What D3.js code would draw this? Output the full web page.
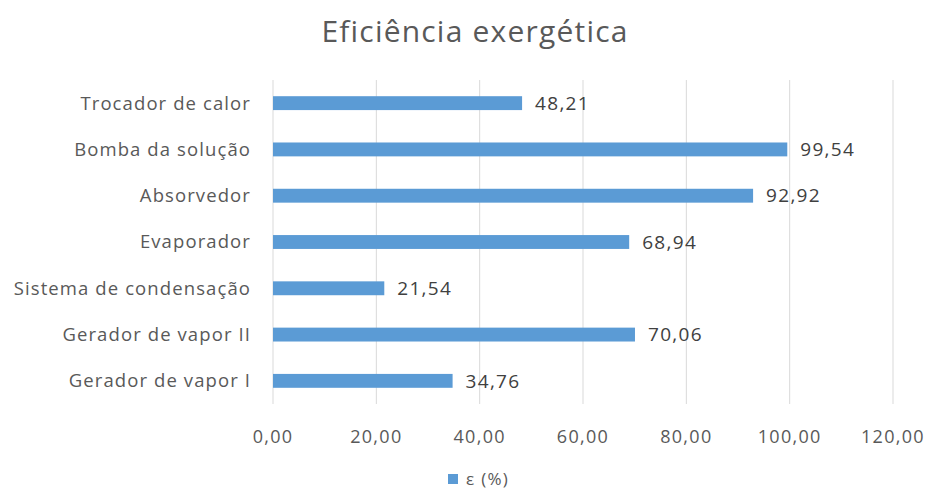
<!DOCTYPE html>
<html>
<head>
<meta charset="utf-8">
<script src="https://cdn.jsdelivr.net/npm/d3@7"></script>
<style>
  html, body { margin: 0; padding: 0; background: #fff; }
  svg { display: block; font-family: "Open Sans", "Noto Sans", sans-serif; }
</style>
</head>
<body>
<svg id="chart" width="930" height="492"></svg>
<script>
// Exergy efficiency per component (%), listed from the bottom bar upwards
const categories = [
  "Gerador de vapor I",
  "Gerador de vapor II",
  "Sistema de condensação",
  "Evaporador",
  "Absorvedor",
  "Bomba da solução",
  "Trocador de calor"
];
const values = [34.76, 70.06, 21.54, 68.94, 92.92, 99.54, 48.21];
const tickValues = [0, 20, 40, 60, 80, 100, 120];
const title = "Eficiência exergética";
const seriesName = "ε (%)";

const fmt = v => d3.format(".2f")(v).replace(".", ",");

const svg = d3.select("#chart");
const margin = { left: 273, right: 37, top: 80, bottom: 88 };
const W = 930, H = 492;

const x = d3.scaleLinear()
  .domain([0, 120])
  .range([margin.left, W - margin.right]);

const y = d3.scaleBand()
  .domain(categories.slice().reverse())
  .range([margin.top, H - margin.bottom])
  .paddingInner(0.7)
  .paddingOuter(0.35);

// Vertical gridlines
svg.append("g")
  .selectAll("line")
  .data(tickValues)
  .join("line")
  .attr("x1", d => x(d)).attr("x2", d => x(d))
  .attr("y1", margin.top).attr("y2", H - margin.bottom)
  .attr("stroke", "#d9d9d9")
  .attr("stroke-width", 1);

// Bars
svg.append("g")
  .selectAll("rect")
  .data(categories.map((c, i) => ({ c, v: values[i] })))
  .join("rect")
  .attr("x", x(0))
  .attr("y", d => y(d.c))
  .attr("width", d => x(d.v) - x(0))
  .attr("height", y.bandwidth())
  .attr("fill", "#5b9bd5");

// Value labels
svg.append("g")
  .selectAll("text")
  .data(categories.map((c, i) => ({ c, v: values[i] })))
  .join("text")
  .attr("x", d => x(d.v) + 13)
  .attr("y", d => y(d.c) + y.bandwidth() / 2)
  .attr("dy", "0.35em")
  .attr("font-size", 19)
  .attr("letter-spacing", 1.3)
  .attr("fill", "#404040")
  .text(d => fmt(d.v));

// Category axis labels
svg.append("g")
  .selectAll("text")
  .data(categories)
  .join("text")
  .attr("x", margin.left - 22)
  .attr("y", d => y(d) + y.bandwidth() / 2)
  .attr("dy", "0.35em")
  .attr("text-anchor", "end")
  .attr("font-size", 18.5)
  .attr("letter-spacing", 1.1)
  .attr("fill", "#595959")
  .text(d => d);

// Value axis tick labels
svg.append("g")
  .selectAll("text")
  .data(tickValues)
  .join("text")
  .attr("x", d => x(d))
  .attr("y", 437)
  .attr("dy", "0.35em")
  .attr("text-anchor", "middle")
  .attr("font-size", 18)
  .attr("letter-spacing", 1.3)
  .attr("fill", "#595959")
  .text(d => fmt(d));

// Title
svg.append("text")
  .attr("x", 475)
  .attr("y", 31)
  .attr("dy", "0.35em")
  .attr("text-anchor", "middle")
  .attr("font-size", 30)
  .attr("letter-spacing", 1.2)
  .attr("fill", "#595959")
  .text(title);

// Legend
const legend = svg.append("g");
legend.append("rect")
  .attr("x", 448).attr("y", 474)
  .attr("width", 10).attr("height", 10)
  .attr("fill", "#5b9bd5");
legend.append("text")
  .attr("x", 466).attr("y", 479)
  .attr("dy", "0.35em")
  .attr("font-size", 17)
  .attr("letter-spacing", 1.3)
  .attr("fill", "#595959")
  .text(seriesName);
</script>
</body>
</html>
